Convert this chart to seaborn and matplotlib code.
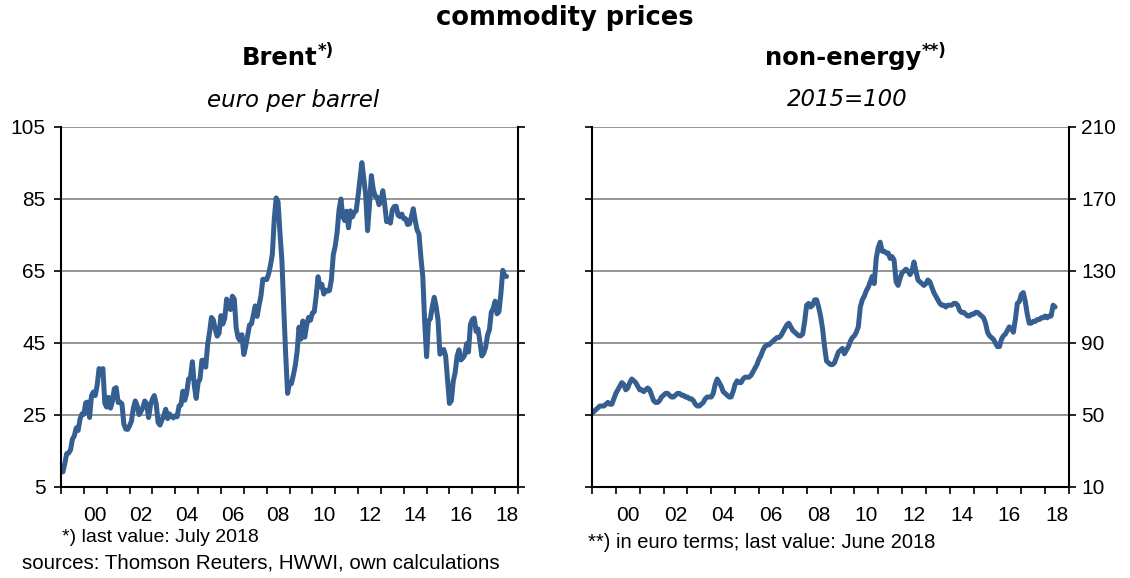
import numpy as np
import pandas as pd
import matplotlib
matplotlib.use("Agg")
import matplotlib.pyplot as plt
import seaborn as sns

# monthly values, Jan 1999 - Jul 2018, euro per barrel
brent = [
    9.6, 9.2, 11.5, 14.3, 14.4, 15.3, 18.3, 19.2, 21.4, 20.7, 23.9, 25.3,
    25.2, 28.4, 28.6, 24.3, 30.3, 31.4, 30.4, 33.3, 37.9, 36.4, 37.9, 28.3,
    27.2, 29.9, 26.9, 28.8, 32.3, 32.6, 28.5, 28.6, 28.1, 22.5, 21.1, 21.0,
    22.0, 23.3, 26.9, 28.9, 27.6, 25.1, 26.0, 27.1, 28.9, 28.1, 24.3, 27.7,
    29.4, 30.4, 28.1, 22.9, 22.2, 23.6, 24.9, 26.6, 24.0, 25.3, 24.6, 24.2,
    24.8, 24.5, 27.5, 27.8, 31.6, 29.1, 31.1, 35.0, 35.4, 39.8, 33.2, 29.6,
    34.0, 35.0, 40.2, 40.2, 38.3, 44.5, 47.9, 52.1, 51.4, 48.8, 46.9, 47.7,
    52.6, 50.3, 51.9, 57.2, 54.8, 54.3, 58.0, 57.2, 49.2, 46.5, 45.7, 47.3,
    41.8, 44.1, 47.0, 50.0, 50.3, 52.7, 55.3, 52.4, 55.4, 58.1, 62.7, 62.7,
    62.6, 64.1, 66.6, 69.7, 79.4, 85.3, 84.2, 75.5, 68.1, 54.5, 41.7, 31.0,
    34.0, 33.7, 36.0, 38.6, 42.6, 49.4, 46.1, 51.1, 46.6, 49.9, 52.1, 51.3,
    53.3, 53.7, 58.0, 63.4, 60.6, 61.3, 58.6, 59.7, 59.4, 59.6, 62.6, 69.5,
    71.9, 75.7, 81.9, 85.0, 80.1, 79.0, 81.6, 77.0, 81.7, 80.0, 81.3, 81.7,
    85.8, 90.4, 95.1, 90.8, 86.2, 76.2, 83.4, 91.5, 87.6, 85.8, 85.5, 83.4,
    84.4, 87.3, 83.5, 78.7, 79.2, 78.3, 82.0, 82.9, 83.0, 80.5, 80.1, 80.8,
    79.5, 79.5, 77.9, 78.1, 80.1, 82.3, 79.1, 76.4, 75.3, 68.8, 63.5, 50.7,
    41.2, 51.0, 51.8, 55.1, 57.7, 55.1, 51.4, 41.9, 42.5, 43.2, 41.4, 34.9,
    28.2, 29.0, 34.4, 36.8, 41.3, 43.1, 40.3, 40.8, 41.6, 44.8, 42.5, 50.1,
    51.5, 51.9, 48.2, 48.9, 45.3, 41.4, 42.2, 43.8, 47.2, 48.7, 53.6, 54.6,
    56.6, 53.1, 53.7, 58.6, 65.2, 63.6, 63.5,
]

# monthly values, Jan 1999 - Jun 2018, 2015=100
non_energy = [
    51, 52, 53, 54, 55, 55, 55, 56, 57, 56, 56, 59,
    62, 64, 66, 68, 67, 64, 65, 68, 70, 69, 68, 66,
    64, 64, 63, 64, 65, 64, 61, 58, 57, 57, 58, 60,
    61, 62, 62, 61, 60, 60, 61, 62, 62, 61, 61, 60,
    60, 59, 59, 58, 56, 55, 55, 56, 57, 59, 60, 60,
    60, 62, 67, 70, 68, 66, 63, 62, 61, 60, 60, 63,
    67, 69, 68, 68, 70, 71, 71, 71, 72, 74, 76, 78,
    81, 83, 86, 88, 89, 89, 90, 91, 92, 93, 93, 94,
    96, 98, 100, 101, 99, 97, 96, 95, 94, 94, 95, 102,
    111, 112, 110, 111, 114, 114, 110, 105, 98, 88, 80, 79,
    78, 78, 79, 82, 85, 86, 87, 84, 86, 88, 91, 93,
    94, 96, 99, 110, 114, 116, 119, 121, 124, 127, 123, 137,
    143, 146, 141, 141, 140, 140, 137, 138, 136, 124, 122, 126,
    129, 130, 131, 130, 128, 130, 135, 130, 125, 124, 123, 122,
    123, 125, 124, 121, 118, 116, 114, 112, 111, 111, 110, 111,
    111, 111, 112, 112, 111, 108, 107, 107, 106, 105, 105, 106,
    106, 107, 107, 106, 105, 104, 101, 96, 94, 93, 92, 90,
    88, 88, 92, 94, 95, 97, 99, 98, 96, 103, 112, 113,
    117, 118, 113, 106, 101, 101, 102, 102, 103, 103, 104, 104,
    105, 104, 105, 105, 111, 110,
]

start_year = 1999
end_year = 2019
brent_ticks = [5, 25, 45, 65, 85, 105]
non_energy_ticks = [10, 50, 90, 130, 170, 210]
year_labels = ['00', '02', '04', '06', '08', '10', '12', '14', '16', '18']

sns.set_style("white")
plt.rcParams['font.family'] = ['Liberation Sans', 'DejaVu Sans']
plt.rcParams['text.color'] = 'black'
plt.rcParams['xtick.color'] = 'black'
plt.rcParams['ytick.color'] = 'black'
plt.rcParams['axes.labelcolor'] = 'black'

line_color = '#355E91'
grid_color = '#8c8c8c'

def to_frame(values):
    months = np.arange(len(values))
    return pd.DataFrame({'year': start_year + months / 12.0, 'value': values})

df_brent = to_frame(brent)
df_non = to_frame(non_energy)

fig = plt.figure(figsize=(11.3, 5.78), dpi=100)
ax1 = fig.add_axes([61/1130, 91/578, 457/1130, 360/578])
ax2 = fig.add_axes([592/1130, 91/578, 477/1130, 360/578])

for ax, df, ticks in [(ax1, df_brent, brent_ticks), (ax2, df_non, non_energy_ticks)]:
    sns.lineplot(data=df, x='year', y='value', ax=ax, color=line_color, linewidth=3.6)
    ax.set_xlim(start_year, end_year)
    ax.set_ylim(ticks[0], ticks[-1])
    ax.set_yticks(ticks)
    ax.set_xticks(range(start_year, end_year + 1))
    ax.set_xticklabels([])
    ax.set_xticks([y + 0.5 for y in range(2000, 2019, 2)], minor=True)
    ax.set_xticklabels(year_labels, minor=True)
    ax.tick_params(axis='x', which='major', direction='out', length=5, width=1.2, color='black', bottom=True)
    ax.tick_params(axis='x', which='minor', length=0, pad=14, labelsize=15)
    ax.tick_params(axis='y', direction='out', length=5, width=1.2, color='black',
                   left=True, right=True, labelsize=15)
    ax.grid(axis='y', color=grid_color, linewidth=1.3)
    ax.grid(axis='x', visible=False)
    ax.set_axisbelow(True)
    ax.set_xlabel('')
    ax.set_ylabel('')
    ax.spines['top'].set_visible(False)
    for s in ['left', 'right', 'bottom']:
        ax.spines[s].set_color('black')
        ax.spines[s].set_linewidth(1.5)

ax1.tick_params(axis='y', labelleft=True, labelright=False, pad=6)
ax2.tick_params(axis='y', labelleft=False, labelright=True, pad=4)

def px(x, y):
    return x / 1130, 1 - y / 578

fig.text(*px(565, 18), 'commodity prices', ha='center', va='center',
         fontsize=18.5, fontweight='bold', family='DejaVu Sans')
fig.text(*px(317, 58), 'Brent', ha='right', va='center',
         fontsize=17.5, fontweight='bold', family='DejaVu Sans')
fig.text(*px(318, 51), '*)', ha='left', va='center',
         fontsize=12, fontweight='bold', family='DejaVu Sans')
fig.text(*px(293, 100), 'euro per barrel', ha='center', va='center',
         fontsize=16.5, style='italic', family='DejaVu Sans')
fig.text(*px(921, 58), 'non-energy', ha='right', va='center',
         fontsize=17.5, fontweight='bold', family='DejaVu Sans')
fig.text(*px(922, 51), '**)', ha='left', va='center',
         fontsize=12, fontweight='bold', family='DejaVu Sans')
fig.text(*px(847, 100), '2015=100', ha='center', va='center',
         fontsize=16.5, style='italic', family='DejaVu Sans')

fig.text(*px(62, 538), '*) last value: July 2018', ha='left', va='center', fontsize=14)
fig.text(*px(22, 563), 'sources: Thomson Reuters, HWWI, own calculations', ha='left', va='center', fontsize=14.8)
fig.text(*px(588, 542), '**) in euro terms; last value: June 2018', ha='left', va='center', fontsize=14.5)

fig.savefig('out.png', dpi=100, facecolor='white')
